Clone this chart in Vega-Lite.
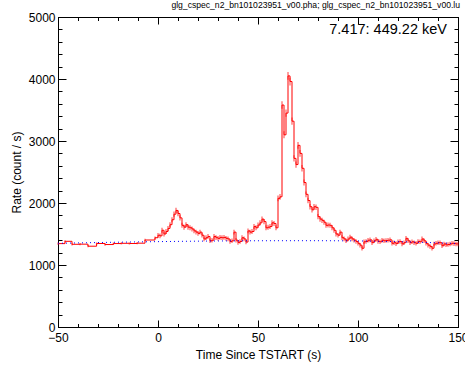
{
  "$schema": "https://vega.github.io/schema/vega-lite/v6.json",
  "width": 400,
  "height": 310,
  "autosize": "none",
  "padding": {"left": 58, "top": 17, "right": 7, "bottom": 40},
  "background": "white",
  "config": {
    "view": {"stroke": "black", "strokeWidth": 1},
    "font": "Liberation Sans",
    "axis": {"grid": false, "domainColor": "black", "tickColor": "black", "labelColor": "black", "titleColor": "black", "labelFont": "Liberation Sans", "titleFont": "Liberation Sans", "labelFontSize": 12, "titleFontSize": 12, "titleFontWeight": "normal", "labelOverlap": false, "labelFlush": false, "domainWidth": 1, "tickWidth": 1}
  },
  "title": {"text": "glg_cspec_n2_bn101023951_v00.pha; glg_cspec_n2_bn101023951_v00.lu", "anchor": "end", "fontSize": 8.6, "fontWeight": "normal", "font": "Liberation Sans", "color": "black", "offset": 1.5, "dx": -8},
  "datasets": {
    "lc": [
      {"t": -50, "rate": 1345, "err": 18},
      {"t": -46.5, "rate": 1382, "err": 19},
      {"t": -43, "rate": 1334, "err": 18},
      {"t": -39, "rate": 1336, "err": 18},
      {"t": -35, "rate": 1303, "err": 18},
      {"t": -30.7, "rate": 1347, "err": 18},
      {"t": -26.5, "rate": 1330, "err": 18},
      {"t": -22.3, "rate": 1346, "err": 18},
      {"t": -18.3, "rate": 1350, "err": 18},
      {"t": -14.3, "rate": 1347, "err": 18},
      {"t": -10.4, "rate": 1352, "err": 18},
      {"t": -6.5, "rate": 1403, "err": 19},
      {"t": -1.5, "rate": 1440, "err": 19},
      {"t": 0, "rate": 1480, "err": 38},
      {"t": 1, "rate": 1470, "err": 38},
      {"t": 2, "rate": 1560, "err": 39},
      {"t": 3, "rate": 1500, "err": 39},
      {"t": 4, "rate": 1540, "err": 39},
      {"t": 5, "rate": 1590, "err": 40},
      {"t": 6, "rate": 1650, "err": 41},
      {"t": 7, "rate": 1730, "err": 42},
      {"t": 8, "rate": 1820, "err": 43},
      {"t": 9, "rate": 1880, "err": 43},
      {"t": 10, "rate": 1830, "err": 43},
      {"t": 11, "rate": 1760, "err": 42},
      {"t": 12, "rate": 1640, "err": 40},
      {"t": 13, "rate": 1610, "err": 40},
      {"t": 14, "rate": 1650, "err": 41},
      {"t": 15, "rate": 1610, "err": 40},
      {"t": 16, "rate": 1600, "err": 40},
      {"t": 17, "rate": 1580, "err": 40},
      {"t": 18, "rate": 1550, "err": 39},
      {"t": 19, "rate": 1530, "err": 39},
      {"t": 20, "rate": 1510, "err": 39},
      {"t": 21, "rate": 1530, "err": 39},
      {"t": 22, "rate": 1480, "err": 38},
      {"t": 23, "rate": 1420, "err": 38},
      {"t": 24, "rate": 1440, "err": 38},
      {"t": 25, "rate": 1460, "err": 38},
      {"t": 26, "rate": 1390, "err": 37},
      {"t": 27, "rate": 1400, "err": 37},
      {"t": 28, "rate": 1460, "err": 38},
      {"t": 29, "rate": 1440, "err": 38},
      {"t": 30, "rate": 1430, "err": 38},
      {"t": 31, "rate": 1445, "err": 38},
      {"t": 32, "rate": 1440, "err": 38},
      {"t": 33, "rate": 1445, "err": 38},
      {"t": 34, "rate": 1430, "err": 38},
      {"t": 35, "rate": 1420, "err": 38},
      {"t": 36, "rate": 1380, "err": 37},
      {"t": 37, "rate": 1390, "err": 37},
      {"t": 38, "rate": 1530, "err": 39},
      {"t": 39, "rate": 1400, "err": 37},
      {"t": 40, "rate": 1365, "err": 37},
      {"t": 41, "rate": 1380, "err": 37},
      {"t": 42, "rate": 1440, "err": 38},
      {"t": 43, "rate": 1420, "err": 38},
      {"t": 44, "rate": 1370, "err": 37},
      {"t": 45, "rate": 1550, "err": 39},
      {"t": 46, "rate": 1530, "err": 39},
      {"t": 47, "rate": 1540, "err": 39},
      {"t": 48, "rate": 1620, "err": 40},
      {"t": 49, "rate": 1600, "err": 40},
      {"t": 50, "rate": 1645, "err": 41},
      {"t": 51, "rate": 1680, "err": 41},
      {"t": 52, "rate": 1740, "err": 42},
      {"t": 53, "rate": 1700, "err": 41},
      {"t": 54, "rate": 1600, "err": 40},
      {"t": 55, "rate": 1610, "err": 40},
      {"t": 56, "rate": 1620, "err": 40},
      {"t": 57, "rate": 1680, "err": 41},
      {"t": 58, "rate": 1670, "err": 41},
      {"t": 59, "rate": 1600, "err": 40},
      {"t": 60, "rate": 2075, "err": 46},
      {"t": 61, "rate": 2100, "err": 46},
      {"t": 62, "rate": 3580, "err": 60},
      {"t": 63, "rate": 3100, "err": 56},
      {"t": 64, "rate": 3450, "err": 59},
      {"t": 65, "rate": 4050, "err": 64},
      {"t": 66, "rate": 3960, "err": 63},
      {"t": 67, "rate": 3320, "err": 58},
      {"t": 68, "rate": 2720, "err": 52},
      {"t": 69, "rate": 2620, "err": 51},
      {"t": 70, "rate": 2930, "err": 54},
      {"t": 71, "rate": 2800, "err": 53},
      {"t": 72, "rate": 2560, "err": 51},
      {"t": 73, "rate": 2330, "err": 48},
      {"t": 74, "rate": 2140, "err": 46},
      {"t": 75, "rate": 2040, "err": 45},
      {"t": 76, "rate": 1940, "err": 44},
      {"t": 77, "rate": 1890, "err": 43},
      {"t": 78, "rate": 1940, "err": 44},
      {"t": 79, "rate": 1930, "err": 44},
      {"t": 80, "rate": 1780, "err": 42},
      {"t": 81, "rate": 1740, "err": 42},
      {"t": 82, "rate": 1720, "err": 41},
      {"t": 83, "rate": 1690, "err": 41},
      {"t": 84, "rate": 1640, "err": 40},
      {"t": 85, "rate": 1645, "err": 41},
      {"t": 86, "rate": 1640, "err": 40},
      {"t": 87, "rate": 1600, "err": 40},
      {"t": 88, "rate": 1560, "err": 39},
      {"t": 89, "rate": 1500, "err": 39},
      {"t": 90, "rate": 1480, "err": 38},
      {"t": 91, "rate": 1530, "err": 39},
      {"t": 92, "rate": 1440, "err": 38},
      {"t": 93, "rate": 1420, "err": 38},
      {"t": 94, "rate": 1390, "err": 37},
      {"t": 95, "rate": 1420, "err": 38},
      {"t": 96, "rate": 1450, "err": 38},
      {"t": 97, "rate": 1420, "err": 38},
      {"t": 98, "rate": 1400, "err": 37},
      {"t": 99, "rate": 1380, "err": 37},
      {"t": 100, "rate": 1350, "err": 37},
      {"t": 101, "rate": 1320, "err": 36},
      {"t": 102, "rate": 1270, "err": 36},
      {"t": 103, "rate": 1375, "err": 37},
      {"t": 104, "rate": 1380, "err": 37},
      {"t": 105, "rate": 1400, "err": 37},
      {"t": 106, "rate": 1405, "err": 37},
      {"t": 107, "rate": 1360, "err": 37},
      {"t": 108, "rate": 1390, "err": 37},
      {"t": 109, "rate": 1415, "err": 38},
      {"t": 110, "rate": 1380, "err": 37},
      {"t": 111, "rate": 1375, "err": 37},
      {"t": 112, "rate": 1400, "err": 37},
      {"t": 113, "rate": 1390, "err": 37},
      {"t": 114, "rate": 1395, "err": 37},
      {"t": 115, "rate": 1400, "err": 37},
      {"t": 116, "rate": 1405, "err": 37},
      {"t": 117, "rate": 1350, "err": 37},
      {"t": 118, "rate": 1360, "err": 37},
      {"t": 119, "rate": 1345, "err": 37},
      {"t": 120, "rate": 1375, "err": 37},
      {"t": 121, "rate": 1380, "err": 37},
      {"t": 122, "rate": 1340, "err": 37},
      {"t": 123, "rate": 1360, "err": 37},
      {"t": 124, "rate": 1430, "err": 38},
      {"t": 125, "rate": 1390, "err": 37},
      {"t": 126, "rate": 1360, "err": 37},
      {"t": 127, "rate": 1375, "err": 37},
      {"t": 128, "rate": 1360, "err": 37},
      {"t": 129, "rate": 1350, "err": 37},
      {"t": 130, "rate": 1380, "err": 37},
      {"t": 131, "rate": 1375, "err": 37},
      {"t": 132, "rate": 1420, "err": 38},
      {"t": 133, "rate": 1390, "err": 37},
      {"t": 134, "rate": 1350, "err": 37},
      {"t": 135, "rate": 1320, "err": 36},
      {"t": 136, "rate": 1300, "err": 36},
      {"t": 137, "rate": 1270, "err": 36},
      {"t": 138, "rate": 1340, "err": 37},
      {"t": 139, "rate": 1350, "err": 37},
      {"t": 140, "rate": 1360, "err": 37},
      {"t": 141, "rate": 1360, "err": 37},
      {"t": 142, "rate": 1310, "err": 36},
      {"t": 143, "rate": 1340, "err": 37},
      {"t": 144, "rate": 1325, "err": 36},
      {"t": 145, "rate": 1330, "err": 36},
      {"t": 146, "rate": 1340, "err": 37},
      {"t": 147, "rate": 1350, "err": 37},
      {"t": 148, "rate": 1345, "err": 37},
      {"t": 149, "rate": 1340, "err": 37},
      {"t": 150, "rate": 1340, "err": 37}
    ],
    "bkg": [
      {"t": -50, "rate": 1350},
      {"t": -25, "rate": 1365},
      {"t": 0, "rate": 1377},
      {"t": 25, "rate": 1386},
      {"t": 50, "rate": 1391},
      {"t": 75, "rate": 1392},
      {"t": 100, "rate": 1388},
      {"t": 125, "rate": 1372},
      {"t": 150, "rate": 1345}
    ]
  },
  "resolve": {"axis": {"x": "independent", "y": "independent"}},
  "layer": [
    {
      "data": {"name": "lc"},
      "mark": {"type": "errorbar", "color": "#ff0000", "opacity": 0.5, "thickness": 1.5, "ticks": false},
      "encoding": {
        "x": {"field": "t", "type": "quantitative", "scale": {"domain": [-50, 150], "nice": false, "zero": false},
          "axis": {"orient": "top", "title": null, "labels": false, "values": [-50,-40,-30,-20,-10,0,10,20,30,40,50,60,70,80,90,100,110,120,130,140,150],
            "tickSize": {"condition": {"test": "datum.value % 50 === 0", "value": -7}, "value": -3.5}, "domain": true}},
        "y": {"field": "rate", "type": "quantitative", "scale": {"domain": [0, 5000], "nice": false, "zero": true},
          "axis": {"orient": "right", "title": null, "labels": false, "values": [0,200,400,600,800,1000,1200,1400,1600,1800,2000,2200,2400,2600,2800,3000,3200,3400,3600,3800,4000,4200,4400,4600,4800,5000],
            "tickSize": {"condition": {"test": "datum.value % 1000 === 0", "value": -8}, "value": -4}, "domain": true}},
        "yError": {"field": "err"}
      }
    },
    {
      "data": {"name": "lc"},
      "mark": {"type": "line", "color": "#ff0000", "strokeWidth": 1, "interpolate": "step-after"},
      "encoding": {
        "x": {"field": "t", "type": "quantitative", "scale": {"domain": [-50, 150], "nice": false, "zero": false},
          "axis": {"orient": "bottom", "title": "Time Since TSTART (s)", "values": [-50,-40,-30,-20,-10,0,10,20,30,40,50,60,70,80,90,100,110,120,130,140,150],
            "labelExpr": "datum.value % 50 === 0 ? datum.label : ''",
            "tickSize": {"condition": {"test": "datum.value % 50 === 0", "value": -7}, "value": -3.5},
            "labelPadding": 12, "titlePadding": 3}},
        "y": {"field": "rate", "type": "quantitative", "scale": {"domain": [0, 5000], "nice": false, "zero": true},
          "axis": {"orient": "left", "title": "Rate (count / s)", "values": [0,200,400,600,800,1000,1200,1400,1600,1800,2000,2200,2400,2600,2800,3000,3200,3400,3600,3800,4000,4200,4400,4600,4800,5000],
            "labelExpr": "datum.value % 1000 === 0 ? datum.label : ''",
            "format": "d",
            "tickSize": {"condition": {"test": "datum.value % 1000 === 0", "value": -8}, "value": -4},
            "labelPadding": 11, "titlePadding": 5}}
      }
    },
    {
      "data": {"name": "bkg"},
      "mark": {"type": "line", "color": "#0000ff", "strokeWidth": 1, "strokeDash": [1, 3], "interpolate": "monotone"},
      "encoding": {
        "x": {"field": "t", "type": "quantitative", "axis": null},
        "y": {"field": "rate", "type": "quantitative", "axis": null}
      }
    },
    {
      "data": {"values": [{"label": "7.417: 449.22 keV"}]},
      "mark": {"type": "text", "align": "right", "baseline": "middle", "fontSize": 14.5, "font": "Liberation Sans", "color": "black"},
      "encoding": {
        "x": {"datum": 144.5, "type": "quantitative", "axis": null},
        "y": {"datum": 4790, "type": "quantitative", "axis": null},
        "text": {"field": "label"}
      }
    }
  ]
}
